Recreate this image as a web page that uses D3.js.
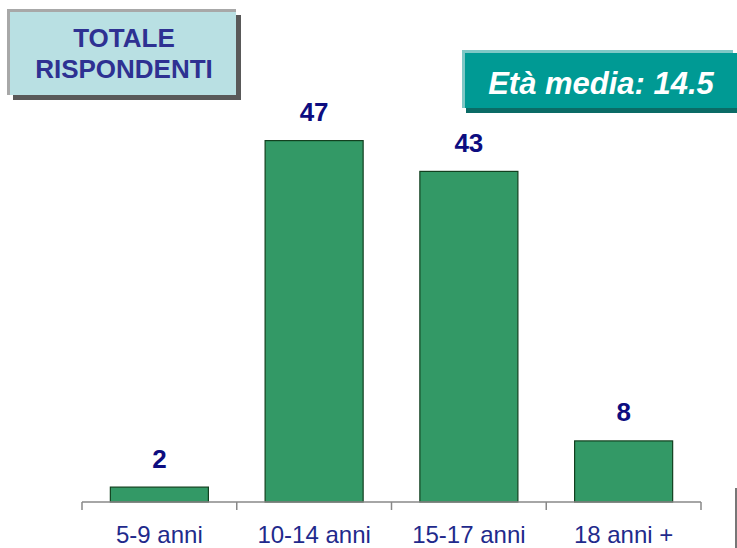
<!DOCTYPE html>
<html>
<head>
<meta charset="utf-8">
<script src="https://cdn.jsdelivr.net/npm/d3@7"></script>
<style>
  html, body { margin: 0; padding: 0; background: #ffffff; }
  svg { display: block; font-family: Arial, "Liberation Sans", sans-serif; }
</style>
</head>
<body>
<svg id="chart" width="737" height="548"></svg>
<script>
// Age groups of respondents (percent)
const categories = ["5-9 anni", "10-14 anni", "15-17 anni", "18 anni +"];
const values = [2, 47, 43, 8];
const titleLines = ["TOTALE", "RISPONDENTI"];
const meanLabel = "Età media: 14.5";

const svg = d3.select("#chart");

const x = d3.scaleBand()
  .domain(categories)
  .range([82, 701])
  .paddingInner(0.36)
  .paddingOuter(0.18);

const y = d3.scaleLinear()
  .domain([0, 50])
  .range([502, 117]);

// Title box with bevelled edge and drop shadow
const tb = svg.append("g");
tb.append("rect").attr("x", 13).attr("y", 15).attr("width", 228).attr("height", 85).attr("fill", "#595959");
tb.append("rect").attr("x", 7).attr("y", 9).attr("width", 229).attr("height", 86).attr("fill", "#a8a8a8");
tb.append("rect").attr("x", 10).attr("y", 12).attr("width", 226).attr("height", 83).attr("fill", "#b9e0e3");
tb.selectAll("text").data(titleLines).join("text")
  .attr("x", 124)
  .attr("y", (d, i) => 47 + i * 31)
  .attr("text-anchor", "middle")
  .attr("font-size", 26)
  .attr("font-weight", "bold")
  .attr("fill", "#2e3192")
  .text(d => d);

// Mean age box
const mb = svg.append("g");
mb.append("rect").attr("x", 466).attr("y", 56).attr("width", 280).attr("height", 57).attr("fill", "#0b6b66");
mb.append("rect").attr("x", 462).attr("y", 50).attr("width", 271).attr("height", 58).attr("fill", "#7fc8c6");
mb.append("rect").attr("x", 465).attr("y", 53).attr("width", 280).attr("height", 55).attr("fill", "#009a94");
mb.append("text")
  .attr("x", 601)
  .attr("y", 94)
  .attr("text-anchor", "middle")
  .attr("font-size", 31)
  .attr("font-weight", "bold")
  .attr("font-style", "italic")
  .attr("fill", "#ffffff")
  .text(meanLabel);

// Bars
svg.append("g").selectAll("rect").data(values).join("rect")
  .attr("x", (d, i) => x(categories[i]) + 0.5)
  .attr("y", d => y(d) + 0.5)
  .attr("width", x.bandwidth() - 1)
  .attr("height", d => y(0) - y(d) - 0.5)
  .attr("fill", "#339966")
  .attr("stroke", "#12401f")
  .attr("stroke-width", 1.2);

// Value labels
svg.append("g").selectAll("text").data(values).join("text")
  .attr("x", (d, i) => x(categories[i]) + x.bandwidth() / 2)
  .attr("y", d => y(d) - 19)
  .attr("text-anchor", "middle")
  .attr("font-size", 26)
  .attr("font-weight", "bold")
  .attr("fill", "#0d0d80")
  .text(d => d);

// Category axis: baseline with boundary ticks
const bounds = categories.map(c => x(c) - x.step() * x.paddingInner() / 2);
bounds.push(701);
const axis = svg.append("g").attr("stroke", "#888888").attr("stroke-width", 1.5).attr("fill", "none");
axis.append("line").attr("x1", 82).attr("x2", 701).attr("y1", y(0)).attr("y2", y(0));
axis.selectAll("line.tick").data(bounds).join("line")
  .attr("class", "tick")
  .attr("x1", d => d).attr("x2", d => d)
  .attr("y1", y(0)).attr("y2", y(0) + 8);

svg.append("g").selectAll("text").data(categories).join("text")
  .attr("x", d => x(d) + x.bandwidth() / 2)
  .attr("y", 543)
  .attr("text-anchor", "middle")
  .attr("font-size", 24)
  .attr("fill", "#1f2a8c")
  .text(d => d);

// Right edge rule
svg.append("line")
  .attr("x1", 736).attr("x2", 736)
  .attr("y1", 488).attr("y2", 548)
  .attr("stroke", "#777777").attr("stroke-width", 2);
</script>
</body>
</html>
